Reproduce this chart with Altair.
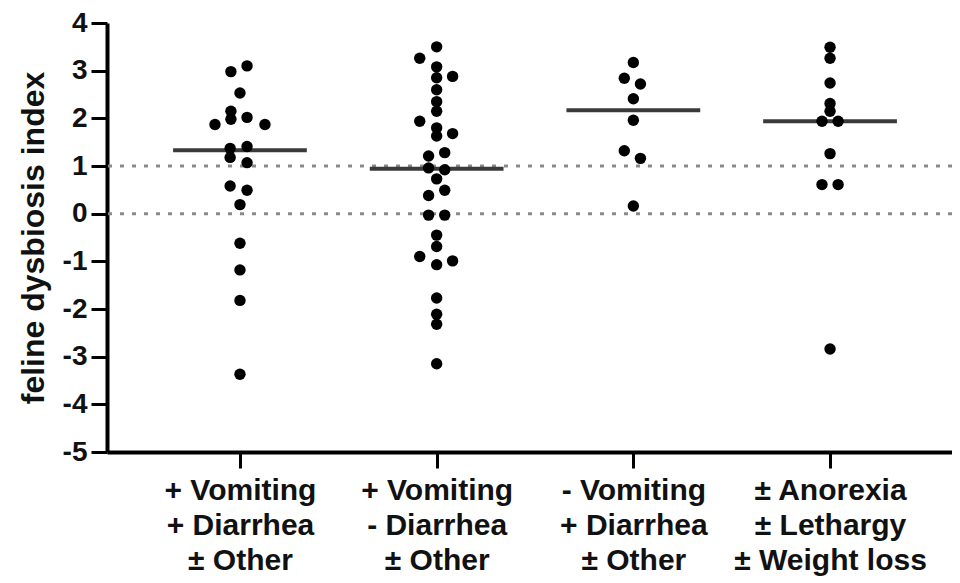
import altair as alt
import pandas as pd

# ---- data ----
groups = [
    ["+ Vomiting", "+ Diarrhea", "± Other"],
    ["+ Vomiting", "- Diarrhea", "± Other"],
    ["- Vomiting", "+ Diarrhea", "± Other"],
    ["± Anorexia", "± Lethargy", "± Weight loss"],
]

g1_values = [2.98, 3.10, 2.53, 2.15, 1.98, 1.87, 2.02, 1.87, 1.37, 1.41, 1.18, 1.07,
             0.58, 0.49, 0.19, -0.62, -1.18, -1.82, -3.37]
g1_spread = [-0.046, 0.036, 0, -0.046, -0.046, -0.127, 0.036, 0.127, -0.05, 0.036, -0.05, 0.036,
             -0.05, 0.036, 0, 0, 0, 0, 0]

g2_values = [3.50, 3.26, 3.08, 2.85, 2.60, 2.35, 2.88, 2.15, 1.94, 1.80, 1.63, 1.68,
             1.28, 1.21, 0.96, 0.92, 0.73, 0.49, 0.38, -0.03, -0.03, -0.45, -0.69,
             -0.90, -1.07, -0.99, -1.77, -2.11, -2.32, -3.15]
g2_spread = [0, -0.086, 0, 0, 0, 0, 0.081, 0, -0.086, 0, 0, 0.081,
             0.041, -0.041, -0.041, 0.041, 0, 0.041, -0.041, -0.041, 0.041, 0, 0,
             -0.086, 0, 0.081, 0, 0, 0, 0]

g3_values = [3.17, 2.84, 2.72, 2.41, 1.96, 1.32, 1.16, 0.16]
g3_spread = [0, -0.046, 0.036, 0, 0, -0.046, 0.036, 0]

g4_values = [3.49, 3.26, 2.74, 2.31, 2.15, 1.94, 1.94, 1.26, 0.61, 0.61, -2.84]
g4_spread = [0, 0, 0, 0, 0, -0.041, 0.041, 0, -0.041, 0.041, 0]

medians = [1.33, 0.94, 2.17, 1.94]
reference_lines = [0, 1]
y_ticks = [-5, -4, -3, -2, -1, 0, 1, 2, 3, 4]

# ---- build tables ----
rows = []
for gi, (vals, spr) in enumerate([(g1_values, g1_spread), (g2_values, g2_spread),
                                  (g3_values, g3_spread), (g4_values, g4_spread)]):
    for v, s in zip(vals, spr):
        rows.append({"pos": gi + s, "value": v})
points_df = pd.DataFrame(rows)

half = 0.34
med_df = pd.DataFrame({"x1": [i - half for i in range(4)],
                       "x2": [i + half for i in range(4)],
                       "median": medians})
ref_df = pd.DataFrame({"y": reference_lines})

label_arr = "[" + ",".join("[" + ",".join("'" + s + "'" for s in g) + "]" for g in groups) + "]"

FONT = "Liberation Sans"

x_scale = alt.Scale(domain=[-0.676, 3.62], nice=False, zero=False)
y_scale = alt.Scale(domain=[-5, 4], nice=False, zero=False)

x_axis = alt.Axis(values=[0, 1, 2, 3], labelExpr=label_arr + "[datum.value]",
                  title=None, grid=False, tickSize=16, tickWidth=3, tickColor="black",
                  domainColor="black", domainWidth=4, labelFont=FONT, labelFontSize=30,
                  labelFontWeight="bold", labelColor="#111", labelLineHeight=35,
                  labelPadding=7, labelBaseline="top", labelLimit=0)
y_axis = alt.Axis(values=y_ticks, labelExpr="'' + datum.value",
                  title="feline dysbiosis index", grid=False,
                  tickSize=16, tickWidth=3, tickColor="black", domainColor="black",
                  domainWidth=4, labelFont=FONT, labelFontSize=28, labelFontWeight="bold",
                  labelColor="#111", labelPadding=4, titleFont=FONT, titleFontSize=32,
                  titleFontWeight="bold", titleColor="#111", titlePadding=12)

refs = alt.Chart(ref_df).mark_rule(color="#8a8a8a", strokeWidth=3, strokeDash=[4, 8]).encode(
    y=alt.Y("y:Q", scale=y_scale, axis=y_axis)
)

meds = alt.Chart(med_df).mark_rule(color="#3a3a3a", strokeWidth=4).encode(
    x=alt.X("x1:Q", scale=x_scale, axis=x_axis),
    x2="x2:Q",
    y=alt.Y("median:Q", scale=y_scale, axis=y_axis),
)

pts = alt.Chart(points_df).mark_circle(size=130, color="black", opacity=1).encode(
    x=alt.X("pos:Q", scale=x_scale, axis=x_axis),
    y=alt.Y("value:Q", scale=y_scale, axis=y_axis),
)

chart = alt.layer(refs, meds, pts).properties(
    width=845, height=429,
    padding={"left": 99, "top": 15, "right": 0, "bottom": 130},
    autosize=alt.AutoSizeParams(type="none"),
).configure_view(strokeWidth=0)

chart.save("out.html", embed_options={"renderer": "svg", "actions": False})
